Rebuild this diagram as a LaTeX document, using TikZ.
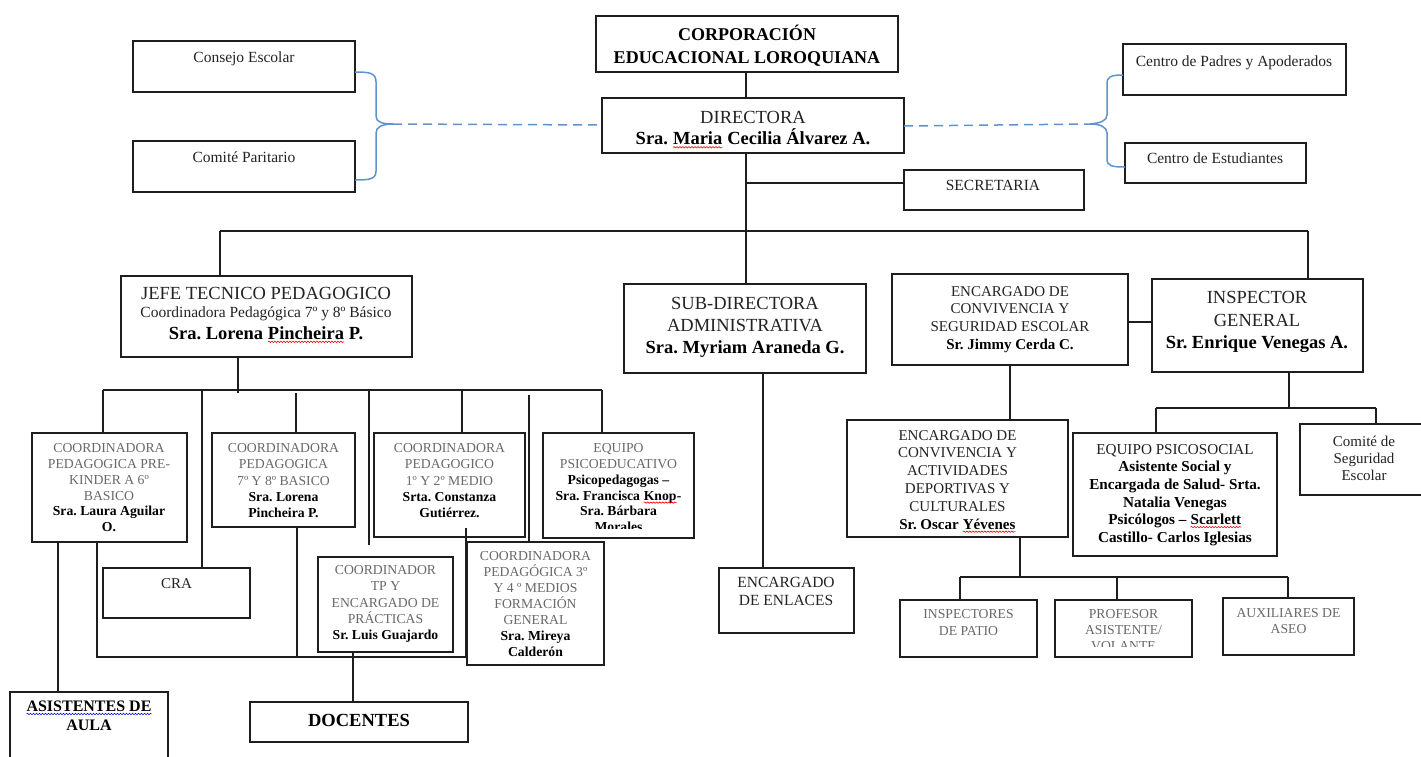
\documentclass[tikz,border=0pt]{standalone}
\usepackage{fontspec}
\setmainfont{Liberation Serif}
\usetikzlibrary{calc,decorations.pathmorphing}
\frenchspacing
\newcommand\wavy[2]{\tikz[baseline=(wv.base)]{\node[inner sep=0pt,outer sep=0pt,anchor=base](wv){#2};\draw[#1,line width=0.6pt,decorate,decoration={snake,amplitude=0.7pt,segment length=3pt}] ([yshift=-2.5pt]wv.base west) -- ([yshift=-2.5pt]wv.base east);}}
\newcommand\redwave[1]{\wavy{red}{#1}}
\newcommand\bluewave[1]{\wavy{blue}{#1}}
\definecolor{bracecol}{RGB}{96,146,208}
\definecolor{linecol}{RGB}{30,30,30}
\definecolor{graytxt}{RGB}{105,105,105}
\definecolor{regtxt}{RGB}{35,35,35}
\newcommand\B[1]{\textcolor{black}{\textbf{#1}}}
\newcommand\bx[5]{\node[orgbox, minimum width={#4-#2}, minimum height={#5-#3}] (#1) at ({(#2+#4)/2},{(#3+#5)/2}) {};}
\newcommand\tx[7][txt]{\node[#1, anchor=north, font=\fontsize{#5}{#6}\selectfont] (#2) at ({#3},{#4-0.67*#5}) {\rule{0pt}{1em}#7};}
\begin{document}
\begin{tikzpicture}[x=1pt,y=-1pt,
  orgbox/.style={draw=linecol, line width=1.4pt, inner sep=0pt, outer sep=0pt},
  txt/.style={inner sep=0pt, align=center, text=regtxt},
  gtxt/.style={txt, text=graytxt},
  conn/.style={draw=linecol, line width=1.4pt},
  bluebrace/.style={draw=bracecol, line width=1.5pt},
  dashblue/.style={draw=bracecol, line width=1.5pt, dash pattern=on 9pt off 6pt}]
\useasboundingbox (0,0) rectangle (1421,756);
\fill[white] (0,0) rectangle (1421,756);
\begin{scope}
\clip (0,0) rectangle (1421,756);
% ---------- top row
\bx{cons}{133}{41}{355}{92}
\tx{consT}{244}{57}{15.5}{18}{Consejo Escolar}
\bx{comp}{133}{141}{355}{192}
\tx{compT}{244}{157}{15.5}{18}{Comité Paritario}
\bx{corp}{596}{16}{898}{72}
\tx{corpT}{747}{34}{18}{23}{\B{CORPORACIÓN}\\\B{EDUCACIONAL LOROQUIANA}}
\bx{dir}{602}{98}{904}{153}
\tx{dirT}{753}{117}{18.5}{21.5}{DIRECTORA\\\B{Sra. \redwave{Maria} Cecilia Álvarez A.}}
\bx{sec}{904}{170}{1084}{210}
\tx{secT}{993}{185}{15.5}{18}{SECRETARIA}
\bx{cpad}{1123}{44}{1346}{95}
\tx{cpadT}{1234}{61}{15.5}{18}{Centro de Padres y Apoderados}
\bx{cest}{1125}{143}{1306}{183}
\tx{cestT}{1215}{158}{15.5}{18}{Centro de Estudiantes}
% ---------- second row
\bx{jefe}{121}{276}{412}{357}
\tx{jefeT}{266}{293}{18.5}{18}{JEFE TECNICO PEDAGOGICO\\{\fontsize{15.5}{18}\selectfont Coordinadora Pedagógica 7º y 8º Básico}\\[4pt]\B{Sra. Lorena \redwave{Pincheira} P.}}
\bx{sub}{624}{284}{866}{373}
\tx{subT}{745}{303}{18.5}{22}{SUB-DIRECTORA\\ADMINISTRATIVA\\\B{Sra. Myriam Araneda G.}}
\bx{encs}{892}{274}{1128}{365}
\tx{encsT}{1010}{291}{15}{17.7}{ENCARGADO DE\\CONVIVENCIA Y\\SEGURIDAD ESCOLAR\\\B{Sr. Jimmy Cerda C.}}
\bx{insp}{1152}{279}{1363}{372}
\tx{inspT}{1257}{297.5}{18.5}{22.5}{INSPECTOR\\GENERAL\\\B{Sr. Enrique Venegas A.}}
% ---------- left lower
\bx{prek}{32}{433}{187}{542}
\tx[gtxt]{prekT}{109}{448}{13.7}{15.8}{COORDINADORA\\PEDAGOGICA PRE-\\KINDER A 6º\\BASICO\\\B{Sra. Laura Aguilar}\\\B{O.}}
\bx{c78}{212}{433}{355}{527}
\tx[gtxt]{c78T}{283.5}{448}{13.7}{16.2}{COORDINADORA\\PEDAGOGICA\\7º Y 8º BASICO\\\B{Sra. Lorena}\\\B{Pincheira P.}}
\bx{c12}{374}{433}{525}{537}
\tx[gtxt]{c12T}{449.5}{448}{13.7}{16.2}{COORDINADORA\\PEDAGOGICO\\1º Y 2º MEDIO\\\B{Srta. Constanza}\\\B{Gutiérrez.}}
\bx{psed}{543}{433}{694}{538}
\begin{scope}
\clip (543,433) rectangle (694,528);
\tx[gtxt]{psedT}{618.5}{448}{13.7}{15.8}{EQUIPO\\PSICOEDUCATIVO\\\B{Psicopedagogas –}\\\B{Sra. Francisca \redwave{Knop}-}\\\B{Sra. Bárbara}\\\B{Morales}}
\end{scope}
\bx{cra}{103}{568}{250}{618}
\tx{craT}{176.5}{583}{15}{18}{CRA}
\bx{tp}{318}{557}{453}{652}
\tx[gtxt]{tpT}{385.5}{570}{13.7}{16.2}{COORDINADOR\\TP Y\\ENCARGADO DE\\PRÁCTICAS\\\B{Sr. Luis Guajardo}}
\bx{c34}{467}{542}{604}{665}
\tx[gtxt]{c34T}{535.5}{556}{13.7}{16}{COORDINADORA\\PEDAGÓGICA 3º\\Y 4 º MEDIOS\\FORMACIÓN\\GENERAL\\\B{Sra. Mireya}\\\B{Calderón}}
\bx{asis}{10}{692}{168}{775}
\tx{asisT}{89}{706}{16}{19}{\B{\bluewave{ASISTENTES DE}}\\\B{AULA}}
\bx{doc}{250}{702}{468}{742}
\tx{docT}{359}{720}{18.5}{22}{\B{DOCENTES}}
\bx{enl}{719}{568}{854}{633}
\tx{enlT}{786}{582}{15.5}{18}{ENCARGADO\\DE ENLACES}
% ---------- right lower
\bx{enca}{847}{420}{1068}{537}
\tx{encaT}{957.5}{435}{15}{17.8}{ENCARGADO DE\\CONVIVENCIA Y\\ACTIVIDADES\\DEPORTIVAS Y\\CULTURALES\\\B{Sr. Oscar \redwave{Yévenes}}}
\bx{psoc}{1073}{433}{1277}{556}
\tx{psocT}{1175}{449}{15.2}{17.6}{EQUIPO PSICOSOCIAL\\\B{Asistente Social y}\\\B{Encargada de Salud- Srta.}\\\B{Natalia Venegas}\\\B{Psicólogos – \redwave{Scarlett}}\\\B{Castillo- Carlos Iglesias}}
\bx{cseg}{1300}{424}{1430}{495}
\tx{csegT}{1364}{441}{15}{17}{Comité de\\Seguridad\\Escolar}
\bx{ipat}{900}{600}{1037}{657}
\tx[gtxt]{ipatT}{968.5}{614}{13.7}{17}{INSPECTORES\\DE PATIO}
\bx{prof}{1055}{600}{1192}{657}
\begin{scope}
\clip (1055,600) rectangle (1192,646);
\tx[gtxt]{profT}{1123.5}{614}{13.7}{16}{PROFESOR\\ASISTENTE/\\VOLANTE}
\end{scope}
\bx{aux}{1223}{598}{1354}{655}
\tx[gtxt]{auxT}{1288.5}{613}{13.7}{16}{AUXILIARES DE\\ASEO}
% ---------- connectors
\coordinate (cx) at (746,0);
\draw[conn] (corp.south -| cx) -- (dir.north -| cx);
\draw[conn] (dir.south -| cx) -- (sub.north -| cx);
\draw[conn] (cx |- 0,183) -- (sec.west |- 0,183);
\coordinate (barL) at (220,231);
\coordinate (barR) at (1308,231);
\draw[conn] (barL) -- (barR);
\draw[conn] (barL) -- (jefe.north -| barL);
\draw[conn] (barR) -- (insp.north -| barR);
\draw[conn] (encs.east |- 0,322) -- (insp.west |- 0,322);
\coordinate (sbL) at (103,390);
\coordinate (sbR) at (602,390);
\draw[conn] (jefe.south -| 238,0) -- (238,393);
\draw[conn] (sbL) -- (sbR);
\draw[conn] (sbL) -- (prek.north -| sbL);
\draw[conn] (202,390) -- (cra.north -| 202,0);
\draw[conn] (296,393) -- (c78.north -| 296,0);
\coordinate (tpend) at (369,545);
\draw[conn] (369,391) -- (tpend);
\draw[conn] (462,390) -- (c12.north -| 462,0);
\draw[conn] (529,395) -- (c34.north -| 529,0);
\draw[conn] (sbR) -- (psed.north -| sbR);
\draw[conn] (prek.south -| 58,0) -- (asis.north -| 58,0);
\coordinate (lbL) at (97,657);
\coordinate (lbR) at (467,657);
\draw[conn] (prek.south -| lbL) -- (lbL) -- (lbR);
\draw[conn] (c78.south -| 297,0) -- (297,657);
\draw[conn] (466,528) -- (466,657);
\draw[conn] (tp.south -| 353,0) -- (doc.north -| 353,0);
\draw[conn] (sub.south -| 763,0) -- (enl.north -| 763,0);
\draw[conn] (encs.south -| 1010,0) -- (enca.north -| 1010,0);
\draw[conn] (insp.south -| 1289,0) -- (1289,408);
\draw[conn] (1156,408) -- (1376,408);
\draw[conn] (1156,408) -- (psoc.north -| 1156,0);
\draw[conn] (1376,408) -- (cseg.north -| 1376,0);
\draw[conn] (enca.south -| 1020,0) -- (1020,577);
\draw[conn] (960,577) -- (1288,577);
\draw[conn] (960,577) -- (ipat.north -| 960,0);
\draw[conn] (1117,577) -- (prof.north -| 1117,0);
\draw[conn] (1288,577) -- (aux.north -| 1288,0);
% ---------- blue braces
\draw[bluebrace] (cons.east |- 0,72) .. controls (370,72) and (376,73) .. (376,82) -- (376,116) .. controls (376,122) and (382,124) .. (393,124);
\draw[bluebrace] (393,124) .. controls (382,124) and (376,127) .. (376,133) -- (376,171) .. controls (376,179) and (370,180) .. (comp.east |- 0,180);
\draw[dashblue] (393,124) -- (dir.west |- 0,125);
\draw[dashblue] (dir.east |- 0,126) -- (1090,124);
\draw[bluebrace] (cpad.west |- 0,75) .. controls (1110,75) and (1107,77) .. (1107,84) -- (1107,115) .. controls (1107,121) and (1100,123) .. (1090,124);
\draw[bluebrace] (1090,124) .. controls (1100,124) and (1107,127) .. (1107,133) -- (1107,159) .. controls (1107,166) and (1112,167) .. (cest.west |- 0,167);
\end{scope}
\end{tikzpicture}
\end{document}
